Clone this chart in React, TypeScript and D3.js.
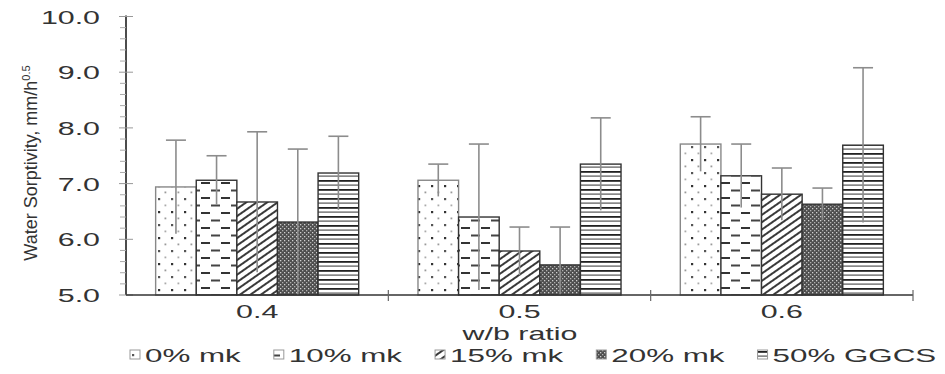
import React from "react";
import * as d3 from "d3";

const categories = ["0.4", "0.5", "0.6"];
const series = ["0% mk", "10% mk", "15% mk", "20% mk", "50% GGCS"];
const means = [
  [6.94, 7.06, 7.71],
  [7.06, 6.4, 7.14],
  [6.67, 5.79, 6.81],
  [6.31, 5.54, 6.63],
  [7.19, 7.35, 7.69],
];
const errors = [
  [0.84, 0.29, 0.49],
  [0.44, 1.31, 0.57],
  [1.26, 0.43, 0.47],
  [1.31, 0.68, 0.29],
  [0.66, 0.83, 1.39],
];
const yTicks = [5, 6, 7, 8, 9, 10];

const W = 945;
const H = 374;
const FONT = "'Liberation Sans', Arial, Helvetica, sans-serif";
const SX = 1.6;
const LSX = 1.65;
const FS = 19;
const TXT = "#333";

const patIds = ["p0", "p1", "p2", "p3", "p4"];

function textW(s: string, size: number) {
  if (typeof document === "undefined") return s.length * size * 0.55;
  const c = document.createElement("canvas");
  const ctx = c.getContext("2d");
  if (!ctx) return s.length * size * 0.55;
  ctx.font = `${size}px 'Liberation Sans', Arial, sans-serif`;
  return ctx.measureText(s).width;
}

export default function App() {
  const x0 = 126;
  const x1 = 913;
  const yBase = 295;
  const y = d3.scaleLinear().domain([5, 10]).range([yBase, 16.5]);
  const xCat = d3
    .scaleBand<string>()
    .domain(categories)
    .range([x0, x1])
    .paddingInner(0.226)
    .paddingOuter(0.113);
  const xSer = d3.scaleBand<string>().domain(series).range([0, xCat.bandwidth()]).padding(0);
  const step = xCat.step();
  const minorTicks = d3.range(5, 10.0001, 0.2).filter((v) => Math.abs(v - Math.round(v)) > 0.01);

  // legend layout
  const legendY = 362;
  const iconW = 10;
  let lx = 130;
  const legendItems = series.map((s, i) => {
    const item = { s, i, x: lx };
    lx += iconW + 5 + textW(s, FS) * LSX + 33;
    return item;
  });

  return (
    <svg
      width={W}
      height={H}
      style={{ position: "absolute", left: 0, top: 0, background: "#fff" }}
      fontFamily={FONT}
    >
      <defs>
        <pattern id="p0" width="13" height="26" patternUnits="userSpaceOnUse">
          <rect width="13" height="26" fill="#fff" />
          <rect x="2" y="3" width="2.2" height="2.2" fill="#333" />
          <rect x="8.5" y="9.5" width="1.8" height="1.8" fill="#999" />
          <rect x="2" y="16" width="2.2" height="2.2" fill="#555" />
          <rect x="8.5" y="22.5" width="1.8" height="1.8" fill="#aaa" />
        </pattern>
        <pattern id="p1" width="20" height="15" patternUnits="userSpaceOnUse">
          <rect width="20" height="15" fill="#fff" />
          <rect x="1" y="2" width="9" height="2" fill="#333" />
          <rect x="11" y="9.5" width="9" height="2" fill="#444" />
        </pattern>
        <pattern id="p2" width="6" height="6" patternUnits="userSpaceOnUse" patternTransform="rotate(-35)">
          <rect width="6" height="6" fill="#fff" />
          <rect x="0" y="0" width="6" height="2" fill="#3a3a3a" />
        </pattern>
        <pattern id="p3" width="4" height="4" patternUnits="userSpaceOnUse">
          <rect width="4" height="4" fill="#4e4e4e" />
          <rect x="0" y="0" width="1.3" height="1.3" fill="#d0d0d0" />
          <rect x="2" y="2" width="1.3" height="1.3" fill="#b0b0b0" />
        </pattern>
        <pattern id="p4" width="9" height="9" patternUnits="userSpaceOnUse">
          <rect width="9" height="9" fill="#fff" />
          <rect x="0" y="0" width="9" height="1.8" fill="#222" />
          <rect x="0" y="4.5" width="9" height="1.2" fill="#555" />
        </pattern>
      </defs>

      {/* bars */}
      {categories.map((c, ci) =>
        series.map((s, si) => {
          const bx = (xCat(c) ?? 0) + (xSer(s) ?? 0);
          const bw = xSer.bandwidth();
          const v = means[si][ci];
          return (
            <rect
              key={`b${ci}-${si}`}
              x={bx}
              y={y(v)}
              width={bw}
              height={yBase - y(v)}
              fill={`url(#${patIds[si]})`}
              stroke={si === 0 ? "#888" : "#333"}
              strokeWidth={1.4}
            />
          );
        })
      )}

      {/* error bars */}
      {categories.map((c, ci) =>
        series.map((s, si) => {
          const cx = (xCat(c) ?? 0) + (xSer(s) ?? 0) + xSer.bandwidth() / 2;
          const v = means[si][ci];
          const e = errors[si][ci];
          const top = y(v + e);
          const bot = y(Math.max(5, v - e));
          return (
            <g key={`e${ci}-${si}`} stroke="#8c8c8c" strokeWidth={1.6}>
              <line x1={cx} x2={cx} y1={top} y2={bot} />
              <line x1={cx - 10} x2={cx + 10} y1={top} y2={top} />
            </g>
          );
        })
      )}

      {/* y axis */}
      <line x1={x0} x2={x0} y1={y(10) - 1} y2={yBase} stroke="#111" strokeWidth={1.5} />
      {minorTicks.map((t) => (
        <line key={`m${t}`} x1={x0 - 6} x2={x0} y1={y(t)} y2={y(t)} stroke="#aaa" strokeWidth={1} />
      ))}
      {yTicks.map((t) => (
        <g key={`y${t}`}>
          <line x1={x0 - 7} x2={x0 + 7} y1={y(t)} y2={y(t)} stroke="#999" strokeWidth={1} />
          <text
            transform={`translate(${x0 - 26},${y(t) + 7}) scale(${SX},1)`}
            textAnchor="end"
            fontSize={FS}
            fill={TXT}
          >
            {t.toFixed(1)}
          </text>
        </g>
      ))}

      {/* x axis */}
      <line x1={x0} x2={x1} y1={yBase} y2={yBase} stroke="#333" strokeWidth={1.5} />
      {categories.map((c, ci) => (
        <line
          key={`xt${ci}`}
          x1={x0 + step * (ci + 1)}
          x2={x0 + step * (ci + 1)}
          y1={yBase - 5}
          y2={yBase + 6}
          stroke="#666"
          strokeWidth={1.2}
        />
      ))}
      {categories.map((c) => (
        <text
          key={`xl${c}`}
          transform={`translate(${(xCat(c) ?? 0) + xCat.bandwidth() / 2},${318}) scale(${SX},1)`}
          textAnchor="middle"
          fontSize={FS}
          fill={TXT}
        >
          {c}
        </text>
      ))}
      <text
        transform={`translate(${520},${340}) scale(${SX},1)`}
        textAnchor="middle"
        fontSize={FS}
        fill={TXT}
      >
        w/b ratio
      </text>

      {/* y label */}
      <text
        transform={`translate(${37},${163}) rotate(-90)`}
        textAnchor="middle"
        fontSize={18}
        fill={TXT}
      >
        Water Sorptivity, mm/h
        <tspan fontSize={11} dy={-7}>
          0.5
        </tspan>
      </text>

      {/* legend */}
      {legendItems.map((it) => (
        <g key={`l${it.i}`}>
          <rect
            x={it.x}
            y={legendY - 12}
            width={iconW}
            height={9}
            fill={`url(#${patIds[it.i]})`}
            stroke="#999"
            strokeWidth={1}
          />
          <text
            transform={`translate(${it.x + iconW + 5},${legendY}) scale(${LSX},1)`}
            fontSize={FS}
            fill={TXT}
          >
            {it.s}
          </text>
        </g>
      ))}
    </svg>
  );
}
